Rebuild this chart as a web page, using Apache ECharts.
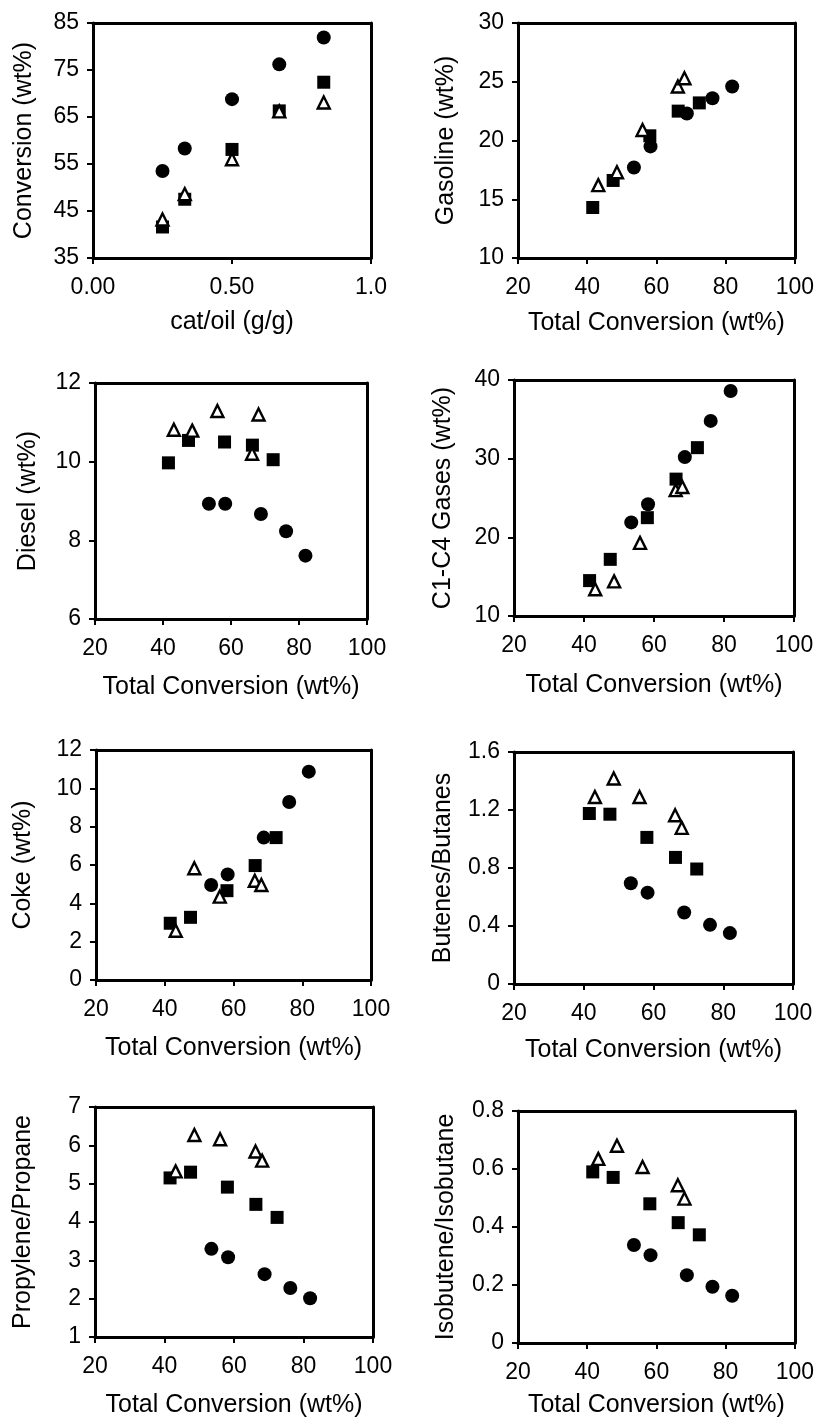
<!DOCTYPE html>
<html>
<head>
<meta charset="utf-8">
<title>FCC results</title>
<script src="https://cdn.jsdelivr.net/npm/echarts@6/dist/echarts.min.js"></script>
<style>
  html, body { margin: 0; padding: 0; background: #fff; }
  #main { width: 817px; height: 1419px; }
</style>
</head>
<body>
<div id="main"></div>
<script>
// x values: cat/oil ratio and total conversion for the three catalysts
var catOil = [0.25, 0.33, 0.50, 0.67, 0.83];
var catOilLabels = ['0.00', '0.50', '1.0'];
var convCircle = [53.5, 58.3, 68.8, 76.2, 81.9];
var convSquare = [41.6, 47.5, 58.1, 66.3, 72.4];
var convTriangle = [43.2, 48.6, 56.0, 66.2, 68.1];

// yields (wt%)
var gasolineCircle = [17.7, 19.5, 22.3, 23.6, 24.6];
var gasolineSquare = [14.3, 16.6, 20.4, 22.5, 23.2];
var gasolineTriangle = [16.2, 17.3, 20.9, 24.6, 25.3];

var dieselCircle = [8.93, 8.93, 8.67, 8.23, 7.61];
var dieselSquare = [9.97, 10.54, 10.50, 10.42, 10.05];
var dieselTriangle = [10.81, 10.79, 11.29, 10.20, 11.20];

var gasesCircle = [21.9, 24.2, 30.2, 34.8, 38.6];
var gasesSquare = [14.5, 17.2, 22.5, 27.4, 31.4];
var gasesTriangle = [13.4, 14.4, 19.3, 26.0, 26.4];

var cokeCircle = [4.96, 5.51, 7.43, 9.29, 10.87];
var cokeSquare = [2.96, 3.27, 4.66, 5.97, 7.43];
var cokeTriangle = [2.57, 5.83, 4.35, 5.18, 4.96];

// olefin / paraffin ratios
var butCircle = [0.695, 0.630, 0.493, 0.408, 0.351];
var butSquare = [1.176, 1.171, 1.011, 0.873, 0.793];
var butTriangle = [1.29, 1.417, 1.29, 1.164, 1.077];

var propCircle = [3.30, 3.08, 2.64, 2.28, 2.01];
var propSquare = [5.15, 5.30, 4.91, 4.46, 4.12];
var propTriangle = [5.32, 6.27, 6.16, 5.84, 5.60];

var isoCircle = [0.338, 0.303, 0.234, 0.194, 0.163];
var isoSquare = [0.590, 0.571, 0.480, 0.415, 0.373];
var isoTriangle = [0.635, 0.680, 0.607, 0.544, 0.498];

var FONT = 'Liberation Sans, Arial, sans-serif';

function pairs(xs, ys) {
  var out = [];
  for (var i = 0; i < xs.length; i++) out.push([xs[i], ys[i]]);
  return out;
}

/* one panel: grid box, axis ranges, titles and the three series */
var panels = [
  { box: [93, 23, 278, 235], x: [0, 1, 0.5], y: [35, 85, 10], xName: 'cat/oil (g/g)', yName: 'Conversion (wt%)',
    xg: 52, yg: 56, data: [pairs(catOil, convCircle), pairs(catOil, convSquare), pairs(catOil, convTriangle)] },
  { box: [518, 23, 278, 235], x: [20, 100, 20], y: [10, 30, 5], xName: 'Total Conversion (wt%)', yName: 'Gasoline (wt%)',
    xg: 53, yg: 59, data: [pairs(convCircle, gasolineCircle), pairs(convSquare, gasolineSquare), pairs(convTriangle, gasolineTriangle)] },
  { box: [95, 383, 272, 236], x: [20, 100, 20], y: [6, 12, 2], xName: 'Total Conversion (wt%)', yName: 'Diesel (wt%)',
    xg: 56, yg: 54, data: [pairs(convCircle, dieselCircle), pairs(convSquare, dieselSquare), pairs(convTriangle, dieselTriangle)] },
  { box: [514, 380, 280, 236], x: [20, 100, 20], y: [10, 40, 10], xName: 'Total Conversion (wt%)', yName: 'C1-C4 Gases (wt%)',
    xg: 57, yg: 58, data: [pairs(convCircle, gasesCircle), pairs(convSquare, gasesSquare), pairs(convTriangle, gasesTriangle)] },
  { box: [96, 750, 275, 230], x: [20, 100, 20], y: [0, 12, 2], xName: 'Total Conversion (wt%)', yName: 'Coke (wt%)',
    xg: 56, yg: 60, data: [pairs(convCircle, cokeCircle), pairs(convSquare, cokeSquare), pairs(convTriangle, cokeTriangle)] },
  { box: [514, 752, 279, 232], x: [20, 100, 20], y: [0, 1.6, 0.4], xName: 'Total Conversion (wt%)', yName: 'Butenes/Butanes',
    xg: 54, yg: 58, data: [pairs(convCircle, butCircle), pairs(convSquare, butSquare), pairs(convTriangle, butTriangle)] },
  { box: [95, 1107, 278, 232], x: [20, 100, 20], y: [1, 7, 1], xName: 'Total Conversion (wt%)', yName: 'Propylene/Propane',
    xg: 56, yg: 59, data: [pairs(convCircle, propCircle), pairs(convSquare, propSquare), pairs(convTriangle, propTriangle)] },
  { box: [518, 1111, 277, 233], x: [20, 100, 20], y: [0, 0.8, 0.2], xName: 'Total Conversion (wt%)', yName: 'Isobutene/Isobutane',
    xg: 50, yg: 59, data: [pairs(convCircle, isoCircle), pairs(convSquare, isoSquare), pairs(convTriangle, isoTriangle)] }
];

var grids = [], xAxes = [], yAxes = [], series = [];

function axisBase(min, max, step, name, gap) {
  return {
    type: 'value', min: min, max: max, interval: step,
    name: name, nameLocation: 'middle', nameGap: gap,
    nameTextStyle: { color: '#000', fontSize: 25, fontFamily: FONT },
    axisLine: { show: true, onZero: false, lineStyle: { color: '#000', width: 3 } },
    axisTick: { show: true, inside: false, length: 6, lineStyle: { color: '#000', width: 2 } },
    splitLine: { show: false },
    axisLabel: { color: '#000', fontSize: 23, fontFamily: FONT }
  };
}

/* top / right edge of the frame: a bare axis line */
function frameAxis(i, pos, min, max) {
  return {
    type: 'value', gridIndex: i, position: pos, min: min, max: max,
    axisLine: { show: true, onZero: false, lineStyle: { color: '#000', width: 3 } },
    axisTick: { show: false }, axisLabel: { show: false }, splitLine: { show: false }
  };
}

panels.forEach(function (p, i) {
  grids.push({
    left: p.box[0], top: p.box[1], width: p.box[2], height: p.box[3],
    show: false
  });
  var xa = axisBase(p.x[0], p.x[1], p.x[2], p.xName, p.xg);
  xa.gridIndex = i;
  xa.axisLabel.margin = 18;
  if (i === 0) {
    xa.axisLabel.formatter = function (v) { return catOilLabels[Math.round(v / 0.5)]; };
  }
  xAxes.push(xa);
  var ya = axisBase(p.y[0], p.y[1], p.y[2], p.yName, p.yg);
  ya.gridIndex = i;
  ya.axisLabel.margin = 14;
  yAxes.push(ya);
  series.push({
    type: 'scatter', xAxisIndex: i, yAxisIndex: i, data: p.data[0],
    symbol: 'circle', symbolSize: 14, itemStyle: { color: '#000', opacity: 1 }
  });
  series.push({
    type: 'scatter', xAxisIndex: i, yAxisIndex: i, data: p.data[1],
    symbol: 'rect', symbolSize: 13, itemStyle: { color: '#000', opacity: 1 }
  });
  // open triangle last so it sits on top of the squares
  series.push({
    type: 'scatter', xAxisIndex: i, yAxisIndex: i, data: p.data[2],
    symbol: 'triangle', symbolSize: 12,
    itemStyle: { color: '#fff', borderColor: '#000', borderWidth: 2.4, opacity: 1 }
  });
});

// frame axes go after the real ones so indices above stay the same
panels.forEach(function (p, i) {
  xAxes.push(frameAxis(i, 'top', p.x[0], p.x[1]));
  yAxes.push(frameAxis(i, 'right', p.y[0], p.y[1]));
});

var chart = echarts.init(document.getElementById('main'), null, { renderer: 'canvas' });
chart.setOption({
  backgroundColor: '#fff',
  animation: false,
  grid: grids,
  xAxis: xAxes,
  yAxis: yAxes,
  series: series
});
</script>
</body>
</html>
